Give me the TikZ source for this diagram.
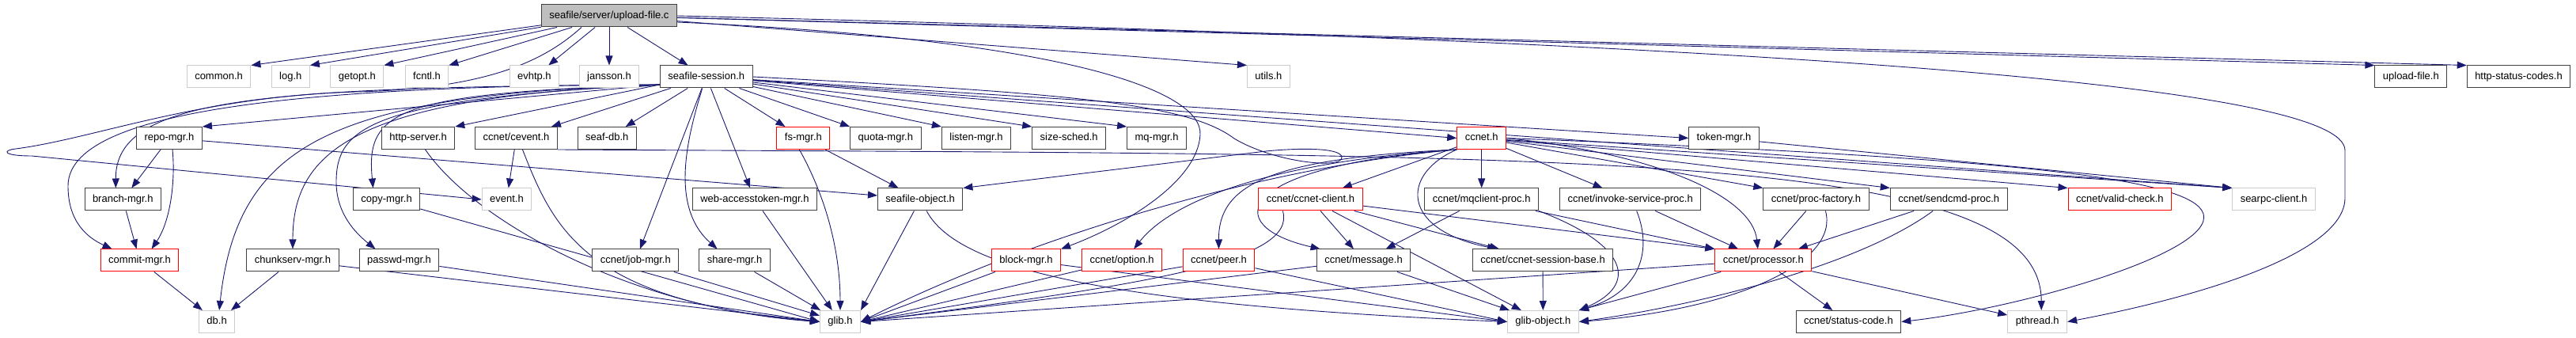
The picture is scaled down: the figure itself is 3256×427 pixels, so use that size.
\documentclass[tikz,border=0pt]{standalone}
\usepackage{fontspec}
\setmainfont{Liberation Sans}
\usetikzlibrary{arrows.meta,backgrounds}
\definecolor{edgeblue}{RGB}{25,25,112}
\definecolor{rootgray}{RGB}{191,191,191}
\definecolor{extgray}{RGB}{204,204,204}
\definecolor{knownblk}{RGB}{64,64,64}

\begin{document}
\begin{tikzpicture}[x=1pt,y=-1pt,
  hdr/.style={rectangle,fill=white,line width=1pt,minimum height=28pt,inner xsep=10pt,inner ysep=0pt,
    text height=9.5pt,text depth=2.8pt,font=\fontsize{13}{15}\selectfont},
  known/.style={hdr,draw=knownblk},
  ext/.style={hdr,draw=extgray},
  trunc/.style={hdr,draw=red},
  rootfile/.style={hdr,draw=knownblk,fill=rootgray},
  dep/.style={draw=edgeblue,line width=0.9pt,-{Triangle[length=12pt,width=9pt]}}]
\useasboundingbox (0,0) rectangle (3256,427);

% row 1 and 2
\node[rootfile] (root) at (770,20) {seafile/server/upload-file.c};
\node[ext] (common) at (276.6,97) {common.h};
\node[ext] (logh) at (367.3,97) {log.h};
\node[ext] (getopt) at (451.4,97) {getopt.h};
\node[ext] (fcntl) at (539.5,97) {fcntl.h};
\node[ext] (evhtp) at (675.4,97) {evhtp.h};
\node[ext] (jansson) at (770,97) {jansson.h};
\node[known] (session) at (892.7,97) {seafile-session.h};
\node[ext] (utils) at (1603.4,97) {utils.h};
\node[known] (uploadh) at (3047.3,97) {upload-file.h};
\node[known] (httpcodes) at (3183.5,97) {http-status-codes.h};

% row 3
\node[known] (repo) at (214,174.5) {repo-mgr.h};
\node[known] (httpsrv) at (528.6,174.5) {http-server.h};
\node[known] (cevent) at (652.5,174.5) {ccnet/cevent.h};
\node[known] (seafdb) at (767.3,174.5) {seaf-db.h};
\node[trunc] (fsmgr) at (1015.4,174.5) {fs-mgr.h};
\node[known] (quota) at (1119.3,174.5) {quota-mgr.h};
\node[known] (listen) at (1234,174.5) {listen-mgr.h};
\node[known] (sizesched) at (1351.2,174.5) {size-sched.h};
\node[known] (mqmgr) at (1462.1,174.5) {mq-mgr.h};
\node[trunc] (ccnet) at (1872.7,174.5) {ccnet.h};
\node[known] (token) at (2179,174.5) {token-mgr.h};

% row 4
\node[known] (branch) at (155.3,252) {branch-mgr.h};
\node[known] (copy) at (488.6,252) {copy-mgr.h};
\node[ext] (event) at (640.5,252) {event.h};
\node[known] (webtok) at (953.9,252) {web-accesstoken-mgr.h};
\node[known] (sobj) at (1163.2,252) {seafile-object.h};
\node[trunc] (client) at (1656.4,252) {ccnet/ccnet-client.h};
\node[known] (mqclient) at (1872.7,252) {ccnet/mqclient-proc.h};
\node[known] (invoke) at (2060.7,252) {ccnet/invoke-service-proc.h};
\node[known] (procfac) at (2295.4,252) {ccnet/proc-factory.h};
\node[known] (sendcmd) at (2463.2,252) {ccnet/sendcmd-proc.h};
\node[trunc] (valid) at (2679.3,252) {ccnet/valid-check.h};
\node[ext] (searpc) at (2874,252) {searpc-client.h};

% row 5
\node[trunc] (commit) at (176.6,329) {commit-mgr.h};
\node[known] (chunk) at (370,329) {chunkserv-mgr.h};
\node[known] (passwd) at (504.5,329) {passwd-mgr.h};
\node[known] (jobmgr) at (803.4,329) {ccnet/job-mgr.h};
\node[known] (share) at (928.6,329) {share-mgr.h};
\node[trunc] (block) at (1297,329) {block-mgr.h};
\node[trunc] (option) at (1418.2,329) {ccnet/option.h};
\node[trunc] (peer) at (1540.5,329) {ccnet/peer.h};
\node[known] (message) at (1723.6,329) {ccnet/message.h};
\node[known] (sessbase) at (1950,329) {ccnet/ccnet-session-base.h};
\node[trunc] (processor) at (2228.8,329) {ccnet/processor.h};

% row 6
\node[ext] (db) at (274.1,406.5) {db.h};
\node[ext] (glib) at (1062,406.5) {glib.h};
\node[ext] (gobject) at (1950.4,406.5) {glib-object.h};
\node[known] (status) at (2336.4,406.5) {ccnet/status-code.h};
\node[ext] (pthread) at (2575.2,406.5) {pthread.h};

\begin{pgfonlayer}{background}
\coordinate (sw) at ([yshift=-10pt]session.west);

% upload-file.c
\draw[dep] (root) -- (common.north east);
\draw[dep] (root) -- (logh.north east);
\draw[dep] (root) -- (getopt.north east);
\draw[dep] (root) -- (fcntl.north east);
\draw[dep] (root) -- (evhtp);
\draw[dep] (root) -- (jansson);
\draw[dep] (root) -- (session);
\draw[dep] (root) -- (utils.north west);
\draw[dep] (root) -- (uploadh.north west);
\draw[dep] (root) -- (httpcodes.north west);
\draw[dep] ([xshift=-35pt]root.south) .. controls (690,75) and (620,112) .. (450,116)
  .. controls (250,122) and (120,175) .. (20,188) .. controls (2,190) and (4,197) .. (40,197) -- (event.west);
\draw[dep] ([yshift=-8pt]root.east) .. controls (1350,50) and (1520,115) .. (1517,170)
  .. controls (1514,230) and (1420,285) .. (block.north east);
\draw[dep] (root.east) .. controls (2300,55) and (2964,110) .. (2964,190) -- (2964,250)
  .. controls (2964,320) and (2780,375) .. (pthread.east);

% seafile-session.h
\draw[dep] (sw) -- (repo.north east);
\draw[dep] (sw) .. controls (320,110) and (146,125) .. ([xshift=-9pt]branch.north);
\draw[dep] (sw) .. controls (260,108) and (86,160) .. (86,235) .. controls (86,280) and (110,300) .. ([xshift=-35pt]commit.north);
\draw[dep] (sw) .. controls (420,120) and (300,180) .. ([xshift=3pt]db.north);
\draw[dep] (sw) .. controls (450,122) and (370,190) .. (chunk.north);
\draw[dep] (sw) .. controls (470,125) and (425,160) .. (425,230) .. controls (425,270) and (450,295) .. ([xshift=-30pt]passwd.north);
\draw[dep] (sw) .. controls (500,118) and (462,140) .. ([xshift=-17pt]copy.north);
\draw[dep] (sw) -- (httpsrv.north east);
\draw[dep] (session) -- ([xshift=-8pt]cevent.north east);
\draw[dep] (session) -- (seafdb);
\draw[dep] (session) -- (fsmgr);
\draw[dep] (session) -- (quota.north west);
\draw[dep] (session) -- (listen.north west);
\draw[dep] (session) -- (sizesched.north west);
\draw[dep] (session) -- (mqmgr.north west);
\draw[dep] (session) -- (ccnet.west);
\draw[dep] (session) -- (token.west);
\draw[dep] (session) -- (searpc.north west);
\draw[dep] (session) -- (webtok);
\draw[dep] (session) -- (jobmgr);
\draw[dep] ([xshift=-5pt]session.south) .. controls (870,170) and (845,260) .. ([xshift=-22pt]share.north);
\draw[dep] (session.east) .. controls (1350,118) and (1500,130) .. (1560,175) .. controls (1610,205) and (1696,214) .. (1696,199)
  .. controls (1696,186) and (1640,187) .. (1600,191) -- (sobj.north east);

% row 3
\draw[dep] (repo) -- (branch);
\draw[dep] ([xshift=4pt]repo.south) .. controls (222,230) and (215,280) .. ([xshift=15pt]commit.north);
\draw[dep] (repo) -- ([yshift=5pt]sobj.west);
\draw[dep] ([xshift=9pt]httpsrv.south) .. controls (600,280) and (800,390) .. (glib.west);
\draw[dep] (cevent) -- (event);
\draw[dep] ([xshift=8pt]cevent.south) .. controls (700,290) and (740,380) .. (glib.west);
\draw[dep] (cevent.south east) .. controls (2000,196) and (2580,188) .. ([xshift=5pt]pthread.north);
\draw[dep] (fsmgr) -- (sobj);
\draw[dep] ([xshift=-5pt]fsmgr.south) .. controls (1050,260) and (1062,330) .. (glib.north);
\draw[dep] (token) -- (searpc.north west);

% ccnet.h
\draw[dep] (ccnet) -- (client);
\draw[dep] (ccnet) -- (mqclient);
\draw[dep] (ccnet) -- (invoke);
\draw[dep] (ccnet) -- (procfac.north west);
\draw[dep] (ccnet) -- (sendcmd.north west);
\draw[dep] (ccnet) -- (valid.north west);
\draw[dep] (ccnet) -- (searpc.north west);
\draw[dep] (ccnet.east) .. controls (2100,195) and (2215,250) .. ([xshift=-7pt]processor.north);
\draw[dep] (ccnet.south west) .. controls (1770,220) and (1770,290) .. ([xshift=-58pt]sessbase.north);
\draw[dep] (ccnet.south west) .. controls (1560,210) and (1540,285) .. ([xshift=-55pt]message.north);
\draw[dep] (ccnet.south west) .. controls (1600,200) and (1540,235) .. (peer.north);
\draw[dep] (ccnet.south west) .. controls (1600,205) and (1480,255) .. ([xshift=15pt]option.north);
\draw[dep] (ccnet.south west) .. controls (1600,210) and (1300,300) .. (glib.east);
\draw[dep] (ccnet.east) .. controls (2550,200) and (2770,225) .. (2785,270) .. controls (2800,320) and (2550,390) .. (status.east);

% row 4
\draw[dep] (branch) -- (commit);
\draw[dep] (copy) -- (glib.west);
\draw[dep] (webtok) -- (glib);
\draw[dep] (sobj) -- (glib.north east);
\draw[dep] ([xshift=8pt]sobj.south) .. controls (1210,340) and (1400,385) .. (gobject.west);
\draw[dep] (client) -- (message);
\draw[dep] (client) -- ([xshift=-55pt]sessbase.north);
\draw[dep] (client) -- (gobject);
\draw[dep] (client) -- (processor.north west);
\draw[dep] ([xshift=-35pt]client.south) .. controls (1640,330) and (1450,360) .. (glib.east);
\draw[dep] (mqclient) -- (message);
\draw[dep] (mqclient) -- (processor.north west);
\draw[dep] (mqclient.south east) .. controls (2060,310) and (2070,360) .. (gobject.north east);
\draw[dep] (invoke) -- (processor);
\draw[dep] ([xshift=8pt]invoke.south) .. controls (2090,320) and (2070,370) .. (gobject.north east);
\draw[dep] (procfac) -- (processor);
\draw[dep] ([xshift=12pt]procfac.south) .. controls (2325,330) and (2200,390) .. (gobject.east);
\draw[dep] (sendcmd) -- (processor);
\draw[dep] ([xshift=-20pt]sendcmd.south) .. controls (2350,335) and (2150,385) .. (gobject.east);

% row 5
\draw[dep] (commit) -- (db);
\draw[dep] (chunk) -- (db);
\draw[dep] (chunk) -- (glib.west);
\draw[dep] (passwd) -- (glib.west);
\draw[dep] (jobmgr) -- (glib);
\draw[dep] (share) -- (glib);
\draw[dep] (block) -- (glib.east);
\draw[dep] (block) -- (gobject.west);
\draw[dep] (option) -- (glib.east);
\draw[dep] (peer) -- (glib.east);
\draw[dep] (peer) -- (gobject.west);
\draw[dep] (message) -- (glib.east);
\draw[dep] (message) -- (gobject);
\draw[dep] (sessbase) -- (gobject);
\draw[dep] (processor) -- (glib.east);
\draw[dep] (processor) -- (gobject.north east);
\draw[dep] (processor) -- (status);
\draw[dep] (processor) -- (pthread);
\end{pgfonlayer}
\end{tikzpicture}
\end{document}
